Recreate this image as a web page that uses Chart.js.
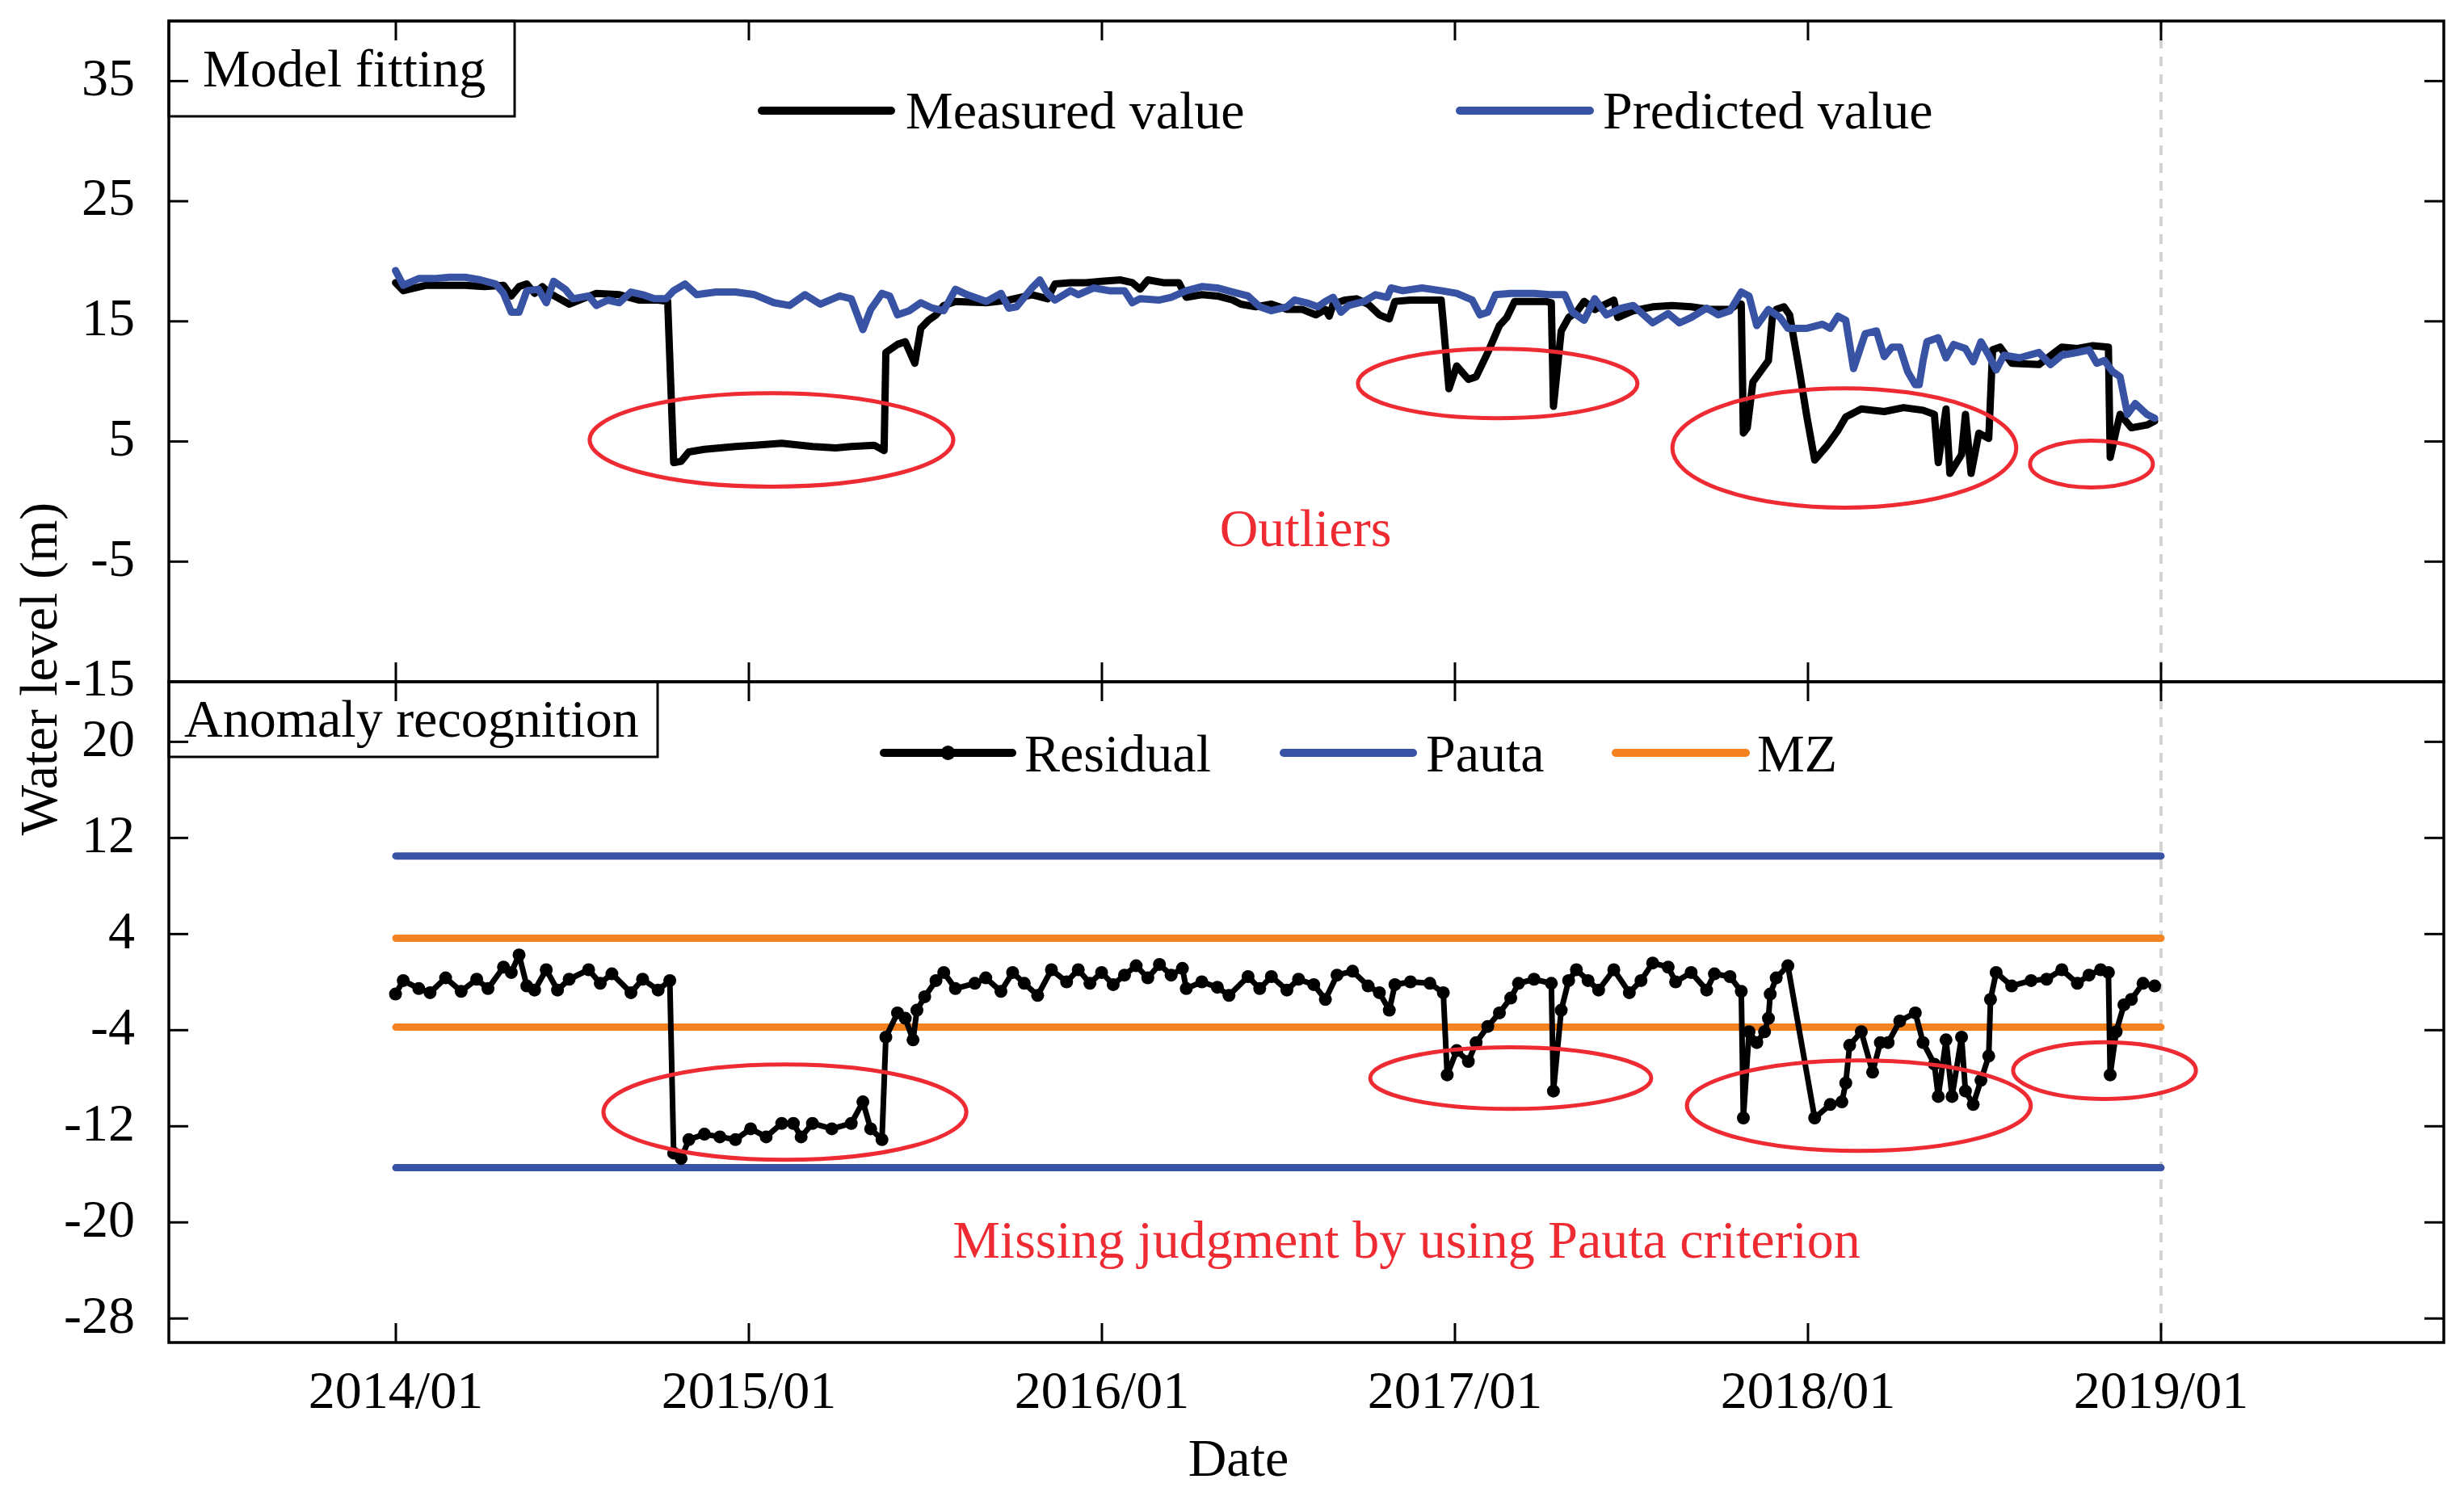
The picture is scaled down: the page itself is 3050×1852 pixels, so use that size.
<!DOCTYPE html>
<html>
<head>
<meta charset="utf-8">
<title>Water level - model fitting and anomaly recognition</title>
<script src="https://cdn.jsdelivr.net/npm/chart.js@4.4.1/dist/chart.umd.min.js"></script>
<style>
    html, body { margin: 0; padding: 0; background: #fff; }
    #wrap { position: relative; width: 3050px; height: 1852px; }
    #wrap canvas { position: absolute; left: 0; top: 0; }
</style>
</head>
<body>
<div id="wrap">
    <canvas id="fitChart" width="3050" height="1852"></canvas>
    <canvas id="anomalyChart" width="3050" height="1852"></canvas>
</div>
<script>
// ---- data (x = decimal year) ----
const yearTicks = [2014, 2015, 2016, 2017, 2018, 2019];
const fitTicks = [35, 25, 15, 5, -5, -15];
const anomalyTicks = [20, 12, 4, -4, -12, -20, -28];

const measuredYears = [
    2013.999, 2014.021, 2014.086, 2014.141, 2014.196, 2014.251, 2014.305, 2014.327, 2014.349, 2014.371,
    2014.393, 2014.415, 2014.436, 2014.491, 2014.568, 2014.633, 2014.688, 2014.743, 2014.770, 2014.787,
    2014.808, 2014.830, 2014.874, 2014.962, 2015.016, 2015.093, 2015.180, 2015.246, 2015.290, 2015.355,
    2015.383, 2015.388, 2015.421, 2015.443, 2015.470, 2015.487, 2015.509, 2015.530, 2015.552, 2015.585,
    2015.673,
    2015.736, 2015.802, 2015.846, 2015.867, 2015.911, 2015.955, 2015.999, 2016.053, 2016.086, 2016.108,
    2016.130, 2016.174, 2016.218, 2016.239, 2016.283, 2016.327, 2016.371, 2016.393, 2016.436, 2016.480,
    2016.524, 2016.568, 2016.606, 2016.633, 2016.644, 2016.655, 2016.688, 2016.721, 2016.754, 2016.786,
    2016.814, 2016.830, 2016.874, 2016.929, 2016.961, 2016.967, 2016.983, 2017.005, 2017.038, 2017.060,
    2017.093, 2017.126, 2017.147, 2017.169, 2017.202, 2017.257, 2017.273, 2017.279, 2017.301, 2017.322,
    2017.344, 2017.366,
    2017.396, 2017.450, 2017.461, 2017.505, 2017.560, 2017.615, 2017.669, 2017.724, 2017.779, 2017.800,
    2017.811, 2017.817, 2017.828, 2017.844, 2017.866, 2017.888, 2017.899, 2017.910, 2017.932, 2017.948,
    2017.976, 2017.997, 2018.019, 2018.052, 2018.085, 2018.107, 2018.151, 2018.216, 2018.271, 2018.326,
    2018.358, 2018.369, 2018.391, 2018.402, 2018.435, 2018.446, 2018.462, 2018.484, 2018.512, 2018.523,
    2018.544, 2018.577, 2018.654, 2018.719, 2018.763, 2018.807, 2018.851, 2018.856, 2018.873, 2018.884,
    2018.916, 2018.960, 2018.982
];
const measuredValues = [
    18.22, 17.55, 18.00, 18.00, 18.00, 17.89, 18.00, 17.11, 17.89, 18.11,
    17.33, 17.89, 17.33, 16.43, 17.33, 17.22, 16.77, 16.77, 16.66, 3.24,
    3.35, 4.13, 4.35, 4.58, 4.69, 4.85, 4.58, 4.47, 4.58, 4.69,
    4.24, 12.41, 13.08, 13.30, 11.51, 14.42, 15.09, 15.54, 16.32, 16.66,
    16.55,
    16.77, 17.22, 16.88, 18.11, 18.22, 18.22, 18.34, 18.45, 18.22, 17.67,
    18.45, 18.22, 18.22, 17.00, 17.22, 17.11, 16.77, 16.43, 16.21, 16.43,
    15.99, 15.99, 15.54, 15.99, 15.43, 16.43, 16.77, 16.88, 16.43, 15.54,
    15.20, 16.66, 16.77, 16.77, 16.77, 14.87, 9.39, 11.29, 10.17, 10.39,
    12.41, 14.65, 15.32, 16.66, 16.66, 16.66, 16.55, 7.93, 14.20, 15.32,
    15.76, 16.66,
    15.99, 16.77, 15.32, 15.88, 16.21, 16.32, 16.21, 15.99, 15.99, 16.43,
    16.43, 5.70, 6.14, 9.95, 10.84, 11.74, 15.32, 15.99, 16.21, 15.54,
    10.84, 7.04, 3.46, 4.58, 5.92, 7.04, 7.71, 7.49, 7.82, 7.60,
    7.26, 3.24, 7.71, 2.34, 3.91, 7.26, 2.34, 5.70, 5.25, 12.63,
    12.86, 11.51, 11.40, 12.86, 12.74, 12.97, 12.86, 3.68, 5.92, 7.26,
    6.14, 6.37, 6.70
];

const predictedYears = [
    2013.999, 2014.021, 2014.065, 2014.108, 2014.152, 2014.196, 2014.240, 2014.283, 2014.305, 2014.327,
    2014.349, 2014.371, 2014.404, 2014.426, 2014.447, 2014.480, 2014.502, 2014.546, 2014.568, 2014.601,
    2014.633, 2014.666, 2014.699, 2014.732, 2014.765, 2014.787, 2014.819, 2014.852, 2014.907, 2014.962,
    2015.016, 2015.071, 2015.115, 2015.159, 2015.202, 2015.257, 2015.290, 2015.323, 2015.345, 2015.377,
    2015.399, 2015.421, 2015.454, 2015.487, 2015.520, 2015.552, 2015.585, 2015.618, 2015.673,
    2015.714, 2015.736, 2015.758, 2015.802, 2015.824, 2015.846, 2015.867, 2015.911, 2015.933, 2015.977,
    2016.021, 2016.064, 2016.086, 2016.108, 2016.163, 2016.196, 2016.239, 2016.283, 2016.327, 2016.371,
    2016.414, 2016.447, 2016.480, 2016.524, 2016.546, 2016.579, 2016.611, 2016.633, 2016.655, 2016.677,
    2016.699, 2016.743, 2016.775, 2016.808, 2016.819, 2016.852, 2016.907, 2016.961, 2017.005, 2017.049,
    2017.071, 2017.093, 2017.115, 2017.158, 2017.224, 2017.268, 2017.311, 2017.333, 2017.366,
    2017.396, 2017.429, 2017.472, 2017.505, 2017.560, 2017.604, 2017.636, 2017.669, 2017.713, 2017.746,
    2017.779, 2017.811, 2017.833, 2017.855, 2017.888, 2017.921, 2017.943, 2017.997, 2018.041, 2018.063,
    2018.085, 2018.107, 2018.129, 2018.162, 2018.194, 2018.216, 2018.238, 2018.260, 2018.282, 2018.304,
    2018.315, 2018.326, 2018.337, 2018.369, 2018.391, 2018.413, 2018.446, 2018.468, 2018.490, 2018.512,
    2018.533, 2018.555, 2018.599, 2018.654, 2018.687, 2018.719, 2018.763, 2018.796, 2018.818, 2018.840,
    2018.862, 2018.884, 2018.905, 2018.927, 2018.960, 2018.982
];
const predictedValues = [
    19.23, 18.00, 18.56, 18.56, 18.67, 18.67, 18.45, 18.11, 17.33, 15.76,
    15.76, 17.55, 17.67, 16.55, 18.34, 17.67, 16.88, 17.11, 16.32, 16.77,
    16.55, 17.44, 17.22, 16.88, 16.88, 17.55, 18.11, 17.22, 17.44, 17.44,
    17.22, 16.55, 16.32, 17.22, 16.43, 17.11, 16.88, 14.31, 15.99, 17.33,
    17.11, 15.54, 15.88, 16.55, 16.10, 15.88, 17.67, 17.22, 16.66,
    17.33, 16.10, 16.21, 17.78, 18.45, 17.33, 16.77, 17.55, 17.22, 17.78,
    17.55, 17.55, 16.55, 16.88, 16.77, 17.00, 17.55, 17.89, 17.78, 17.44,
    17.11, 16.21, 15.88, 16.21, 16.77, 16.55, 16.21, 16.66, 17.00, 15.76,
    16.32, 16.66, 17.22, 17.00, 17.78, 17.55, 17.78, 17.55, 17.33, 16.77,
    15.54, 15.76, 17.22, 17.33, 17.33, 17.22, 17.22, 15.76, 15.09,
    16.88, 15.54, 16.10, 16.32, 14.87, 15.65, 14.87, 15.32, 16.10, 15.54,
    15.88, 17.44, 17.11, 14.65, 15.99, 15.32, 14.42, 14.42, 14.76, 14.42,
    15.43, 15.09, 11.07, 13.97, 14.20, 12.07, 12.86, 12.86, 10.84, 9.72,
    9.72, 11.74, 13.30, 13.64, 11.96, 13.08, 12.74, 11.63, 13.30, 12.18,
    10.95, 12.18, 11.96, 12.41, 11.40, 12.18, 12.41, 12.63, 11.51, 11.74,
    10.84, 10.39, 7.26, 8.16, 7.26, 6.93
];

const residualYears = [
    2013.999, 2014.021, 2014.065, 2014.097, 2014.141, 2014.185, 2014.229, 2014.261, 2014.305, 2014.327,
    2014.349, 2014.371, 2014.393, 2014.426, 2014.458, 2014.491, 2014.546, 2014.579, 2014.612, 2014.666,
    2014.699, 2014.743, 2014.776, 2014.787, 2014.808, 2014.830, 2014.874, 2014.918, 2014.962, 2015.005,
    2015.049, 2015.093, 2015.126, 2015.148, 2015.180, 2015.235, 2015.290, 2015.323, 2015.345, 2015.377,
    2015.388, 2015.421, 2015.443, 2015.465, 2015.476, 2015.498, 2015.530, 2015.552, 2015.585, 2015.640,
    2015.671, 2015.714, 2015.747, 2015.780, 2015.818, 2015.857, 2015.900, 2015.933, 2015.966, 2015.999,
    2016.032, 2016.064, 2016.097, 2016.130, 2016.163, 2016.196, 2016.228, 2016.239, 2016.283, 2016.327,
    2016.360, 2016.414, 2016.447, 2016.480, 2016.524, 2016.557, 2016.600, 2016.633, 2016.666, 2016.710,
    2016.754, 2016.786, 2016.814, 2016.830, 2016.874, 2016.929, 2016.967, 2016.978, 2017.005, 2017.038,
    2017.060, 2017.093, 2017.126, 2017.158, 2017.180, 2017.224, 2017.273, 2017.279, 2017.301, 2017.322,
    2017.344, 2017.377,
    2017.407, 2017.450, 2017.494, 2017.527, 2017.560, 2017.604, 2017.625, 2017.669, 2017.713, 2017.735,
    2017.779, 2017.811, 2017.817, 2017.833, 2017.855, 2017.877, 2017.888, 2017.893, 2017.910, 2017.943,
    2018.019, 2018.063, 2018.096, 2018.107, 2018.118, 2018.151, 2018.183, 2018.205, 2018.227, 2018.260,
    2018.304, 2018.326, 2018.358, 2018.369, 2018.391, 2018.408, 2018.435, 2018.446, 2018.468, 2018.490,
    2018.512, 2018.517, 2018.533, 2018.577, 2018.632, 2018.676, 2018.719, 2018.763, 2018.796, 2018.829,
    2018.851, 2018.856, 2018.873, 2018.895, 2018.916, 2018.949, 2018.982
];
const residualValues = [
    -0.99, 0.13, -0.54, -0.88, 0.35, -0.77, 0.24, -0.54, 1.25, 0.80,
    2.26, -0.32, -0.66, 1.03, -0.66, 0.24, 1.03, -0.10, 0.69, -0.88,
    0.24, -0.66, 0.13, -14.23, -14.68, -13.11, -12.66, -12.88, -13.11, -12.21,
    -12.88, -11.76, -11.76, -12.88, -11.76, -12.21, -11.76, -9.97, -12.21, -13.11,
    -4.58, -2.56, -3.01, -4.81, -2.34, -1.22, 0.13, 0.80, -0.54, -0.10,
    0.35, -0.77, 0.80, -0.10, -1.11, 1.03, 0.02, 1.03, -0.10, 0.80,
    -0.21, 0.58, 1.36, 0.35, 1.47, 0.58, 1.14, -0.54, 0.02, -0.43,
    -1.11, 0.46, -0.54, 0.46, -0.66, 0.24, -0.21, -1.44, 0.58, 0.91,
    -0.32, -0.88, -2.34, -0.21, 0.02, -0.10, -0.88, -7.72, -5.70, -6.60,
    -5.03, -3.69, -2.56, -1.33, -0.10, 0.24, -0.10, -9.07, -2.34, 0.13,
    1.03, 0.13,
    -0.66, 1.03, -0.88, 0.13, 1.59, 1.25, 0.02, 0.80, -0.66, 0.69,
    0.46, -0.77, -11.31, -4.13, -5.03, -4.13, -3.01, -0.99, 0.35, 1.36,
    -11.31, -10.19, -9.97, -8.40, -5.26, -4.13, -7.50, -5.03, -5.03, -3.24,
    -2.56, -5.03, -6.83, -9.52, -4.81, -9.52, -4.58, -9.07, -10.19, -8.17,
    -6.15, -1.44, 0.80, -0.32, 0.13, 0.24, 1.03, -0.10, 0.58, 1.03,
    0.80, -7.72, -4.13, -1.89, -1.44, -0.10, -0.32
];

// thresholds (Pauta = 3 sigma, MZ = modified Z-score)
const limitYears = [2014.0, 2019.0];
const pautaUpper = [10.5, 10.5];
const pautaLower = [-15.45, -15.45];
const mzUpper = [3.65, 3.65];
const mzLower = [-3.75, -3.75];

// red ellipses marking the outliers (centre / half-axes in data units)
const fitEllipseX = [2015.064, 2017.121, 2018.103, 2018.803];
const fitEllipseY = [5.13, 9.83, 4.46, 3.12];
const fitEllipseRx = [0.515, 0.396, 0.487, 0.174];
const fitEllipseRy = [3.89, 2.89, 4.97, 1.95];
const anomalyEllipseX = [2015.102, 2017.158, 2018.144, 2018.840];
const anomalyEllipseY = [-10.82, -7.99, -10.28, -7.36];
const anomalyEllipseRx = [0.514, 0.398, 0.487, 0.259];
const anomalyEllipseRy = [3.97, 2.56, 3.77, 2.36];

const REF_YEAR = 2019.0; // grey dashed line

// ---- layout / style ----
const SERIF = '"Liberation Serif", "Times New Roman", serif';
const FONT = '66px ' + SERIF;
const X_MIN = 2013.357;
const X_MAX = 2019.801;
const PLOT_LEFT = 209;
const TICK_LEN = 24;
const BLACK = '#000000';
const BLUE = '#3953A4';
const ORANGE = '#F58220';
const RED = '#EE2A33';

const toPoints = (xs, ys) => xs.map((x, i) => ({ x: x, y: ys[i] }));

function strokeLine(ctx, x0, y0, x1, y1) {
    ctx.beginPath();
    ctx.moveTo(x0, y0);
    ctx.lineTo(x1, y1);
    ctx.stroke();
}

/**
 * frame, inward ticks, label box, legend, ellipses and notes for one panel
 */
function panelPlugin(panel) {
    return {
        id: 'panel',
        beforeDatasetsDraw(chart) {
            const { ctx, chartArea: a, scales } = chart;
            const px = scales.x.getPixelForValue(REF_YEAR);
            ctx.save();
            ctx.strokeStyle = '#D3D3D3';
            ctx.lineWidth = 4;
            ctx.setLineDash([12, 10]);
            strokeLine(ctx, px, a.top, px, a.bottom);
            ctx.restore();
        },
        afterDatasetsDraw(chart) {
            const { ctx, chartArea: a, scales } = chart;
            const xs = scales.x, ys = scales.y;
            ctx.save();

            // ellipses
            ctx.strokeStyle = RED;
            ctx.lineWidth = 5;
            panel.ellipse.x.forEach((cx, i) => {
                const px = xs.getPixelForValue(cx);
                const py = ys.getPixelForValue(panel.ellipse.y[i]);
                const rx = Math.abs(xs.getPixelForValue(cx + panel.ellipse.rx[i]) - px);
                const ry = Math.abs(ys.getPixelForValue(panel.ellipse.y[i] + panel.ellipse.ry[i]) - py);
                ctx.beginPath();
                ctx.ellipse(px, py, rx, ry, 0, 0, Math.PI * 2);
                ctx.stroke();
            });

            // label box
            const b = panel.box;
            ctx.fillStyle = '#fff';
            ctx.fillRect(a.left, a.top, b.right - a.left, b.bottom - a.top);
            ctx.strokeStyle = BLACK;
            ctx.lineWidth = 3;
            ctx.strokeRect(a.left, a.top, b.right - a.left, b.bottom - a.top);
            ctx.fillStyle = BLACK;
            ctx.font = FONT;
            ctx.textBaseline = 'alphabetic';
            ctx.textAlign = 'left';
            ctx.fillText(b.text, b.textX, b.textY);

            // frame + inward ticks
            ctx.lineWidth = 3.5;
            ctx.strokeRect(a.left, a.top, a.right - a.left, a.bottom - a.top);
            ctx.lineWidth = 3;
            panel.yTicks.forEach(v => {
                const py = ys.getPixelForValue(v);
                strokeLine(ctx, a.left, py, a.left + TICK_LEN, py);
                strokeLine(ctx, a.right - TICK_LEN, py, a.right, py);
            });
            yearTicks.forEach(v => {
                const px = xs.getPixelForValue(v);
                strokeLine(ctx, px, a.top, px, a.top + TICK_LEN);
                strokeLine(ctx, px, a.bottom - TICK_LEN, px, a.bottom);
            });

            // legend
            panel.legend.forEach(item => {
                ctx.strokeStyle = item.color;
                ctx.lineWidth = 10;
                ctx.lineCap = 'round';
                strokeLine(ctx, item.x0, item.y, item.x1, item.y);
                if (item.dot) {
                    ctx.fillStyle = item.color;
                    ctx.beginPath();
                    ctx.arc((item.x0 + item.x1) / 2, item.y, 9, 0, Math.PI * 2);
                    ctx.fill();
                }
                ctx.fillStyle = BLACK;
                ctx.fillText(item.label, item.textX, item.textY);
            });

            // notes
            ctx.textAlign = 'center';
            panel.notes.forEach(n => {
                ctx.fillStyle = n.color;
                ctx.fillText(n.text, n.x, n.y);
            });
            if (panel.yTitle) {
                ctx.fillStyle = BLACK;
                ctx.translate(panel.yTitle.x, panel.yTitle.y);
                ctx.rotate(-Math.PI / 2);
                ctx.fillText(panel.yTitle.text, 0, 0);
            }
            ctx.restore();
        }
    };
}

function yAxis(min, max, ticks) {
    return {
        type: 'linear',
        min: min,
        max: max,
        afterFit: s => {
            s.width = PLOT_LEFT;
            s.paddingTop = 0;
            s.paddingBottom = 0;
        },
        afterBuildTicks: s => { s.ticks = ticks.map(v => ({ value: v })); },
        grid: { display: false },
        border: { display: false },
        ticks: { font: { family: SERIF, size: 66 }, color: BLACK, padding: 34 }
    };
}

function lineSet(label, xs, ys, color, width, extra) {
    return Object.assign({
        label: label,
        data: toPoints(xs, ys),
        borderColor: color,
        backgroundColor: color,
        borderWidth: width,
        pointRadius: 0,
        tension: 0,
        borderJoinStyle: 'round',
        borderCapStyle: 'round'
    }, extra || {});
}

/**
 * upper panel: measured vs predicted water level
 */
function drawFitChart() {
    const ctx = document.getElementById('fitChart').getContext('2d');
    new Chart(ctx, {
        type: 'line',
        data: {
            datasets: [
                lineSet('Predicted value', predictedYears, predictedValues, BLUE, 9),
                lineSet('Measured value', measuredYears, measuredValues, BLACK, 9)
            ]
        },
        options: {
            responsive: false,
            animation: false,
            devicePixelRatio: 1,
            events: [],
            layout: { padding: { top: 26, right: 25, bottom: 1008, left: 0 } },
            plugins: { legend: { display: false }, tooltip: { enabled: false } },
            scales: {
                x: { type: 'linear', min: X_MIN, max: X_MAX, display: false },
                y: yAxis(-15, 40, fitTicks)
            }
        },
        plugins: [panelPlugin({
            yTicks: fitTicks,
            ellipse: { x: fitEllipseX, y: fitEllipseY, rx: fitEllipseRx, ry: fitEllipseRy },
            box: { right: 637, bottom: 144, text: 'Model fitting', textX: 251, textY: 107 },
            legend: [
                { label: 'Measured value', color: BLACK, x0: 943, x1: 1103, y: 137, textX: 1121, textY: 159 },
                { label: 'Predicted value', color: BLUE, x0: 1807, x1: 1968, y: 137, textX: 1984, textY: 159 }
            ],
            notes: [{ text: 'Outliers', color: RED, x: 1616, y: 676 }]
        })]
    });
}

/**
 * lower panel: residual and the two thresholds
 */
function drawAnomalyChart() {
    const ctx = document.getElementById('anomalyChart').getContext('2d');
    new Chart(ctx, {
        type: 'line',
        data: {
            datasets: [
                lineSet('Residual', residualYears, residualValues, BLACK, 7,
                    { pointRadius: 8, pointBorderWidth: 0, pointBackgroundColor: BLACK }),
                lineSet('Pauta', limitYears, pautaUpper, BLUE, 9),
                lineSet('Pauta', limitYears, pautaLower, BLUE, 9),
                lineSet('MZ', limitYears, mzUpper, ORANGE, 9),
                lineSet('MZ', limitYears, mzLower, ORANGE, 9)
            ]
        },
        options: {
            responsive: false,
            animation: false,
            devicePixelRatio: 1,
            events: [],
            layout: { padding: { top: 844, right: 25, bottom: 0, left: 0 } },
            plugins: { legend: { display: false }, tooltip: { enabled: false } },
            scales: {
                x: {
                    type: 'linear',
                    min: X_MIN,
                    max: X_MAX,
                    afterFit: s => {
                        s.height = 190;
                        s.paddingLeft = 0;
                        s.paddingRight = 0;
                    },
                    afterBuildTicks: s => { s.ticks = yearTicks.map(v => ({ value: v })); },
                    grid: { display: false },
                    border: { display: false },
                    ticks: {
                        font: { family: SERIF, size: 66 },
                        color: BLACK,
                        padding: 16,
                        maxRotation: 0,
                        autoSkip: false,
                        callback: v => v + '/01'
                    }
                },
                y: yAxis(-30, 25, anomalyTicks)
            }
        },
        plugins: [panelPlugin({
            yTicks: anomalyTicks,
            ellipse: { x: anomalyEllipseX, y: anomalyEllipseY, rx: anomalyEllipseRx, ry: anomalyEllipseRy },
            box: { right: 814, bottom: 937, text: 'Anomaly recognition', textX: 228, textY: 912 },
            legend: [
                { label: 'Residual', color: BLACK, x0: 1094, x1: 1253, y: 932, textX: 1268, textY: 955, dot: true },
                { label: 'Pauta', color: BLUE, x0: 1589, x1: 1749, y: 932, textX: 1765, textY: 955 },
                { label: 'MZ', color: ORANGE, x0: 2000, x1: 2161, y: 932, textX: 2175, textY: 955 }
            ],
            notes: [
                { text: 'Missing judgment by using Pauta criterion', color: RED, x: 1741, y: 1557 },
                { text: 'Date', color: BLACK, x: 1533, y: 1827 }
            ],
            yTitle: { text: 'Water level (m)', x: 70, y: 828 }
        })]
    });
}

function initPage() {
    drawFitChart();
    drawAnomalyChart();
}

if (document.readyState === 'loading') {
    document.addEventListener('DOMContentLoaded', initPage);
} else {
    initPage();
}
</script>
</body>
</html>
